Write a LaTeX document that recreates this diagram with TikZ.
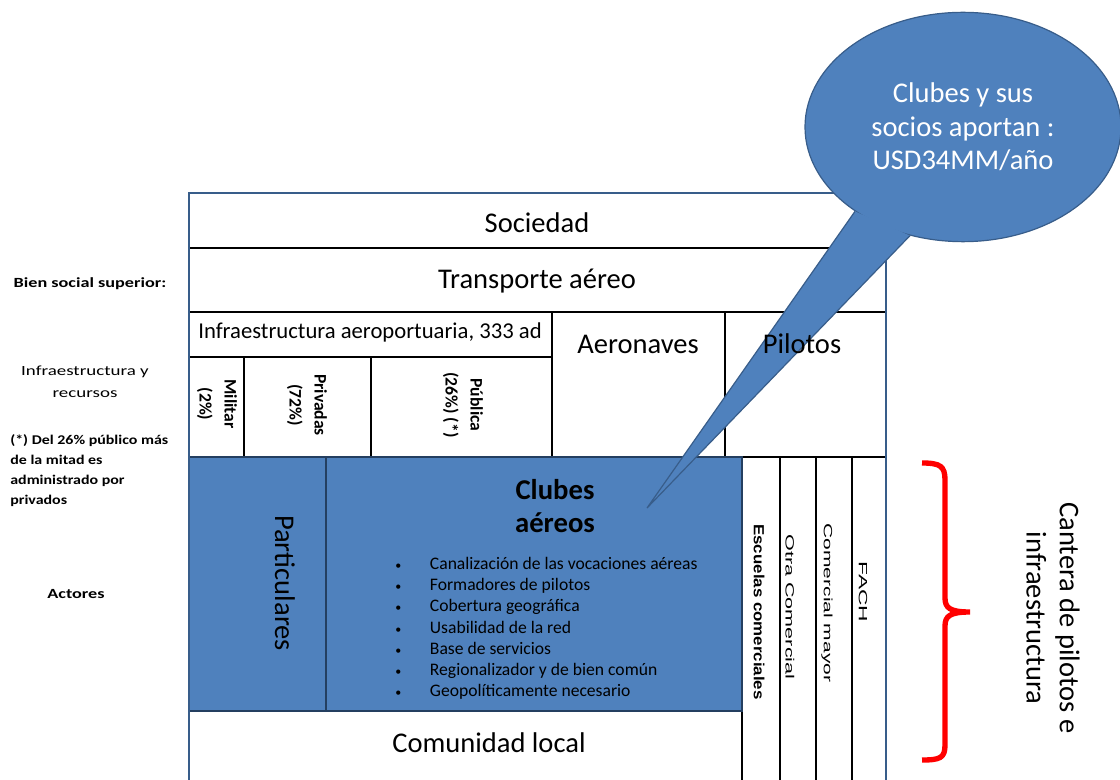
\documentclass[tikz,border=0pt]{standalone}
\usepackage{fontspec}
\setmainfont{Carlito}
\newfontfamily\arialfont{Liberation Sans}
\usetikzlibrary{shapes.geometric}

\definecolor{clubblue}{HTML}{4F81BD}
\definecolor{frameblue}{HTML}{385D8A}
\definecolor{boxline}{HTML}{243F60}

\tikzset{
  grid line/.style={line width=1.6pt,black},
  frame line/.style={line width=2.2pt,frameblue},
  blue box/.style={fill=clubblue,draw=boxline,line width=1.2pt},
  big text/.style={font=\fontsize{21.4}{25}\selectfont,align=center},
  side label/.style={font=\bfseries\fontsize{10.5}{16}\selectfont,xscale=1.3,align=center},
  share label/.style={rotate=-90,font=\bfseries\fontsize{13.2}{18.8}\selectfont,align=center},
  col label/.style={rotate=-90,font=\arialfont\fontsize{9}{11}\selectfont},
  bubble shape/.style={ellipse,fill=clubblue,draw=frameblue,line width=0.9pt,text=white,
    minimum width=237pt,minimum height=172pt,inner sep=0pt},
  bubble tail/.style={fill=clubblue,draw=frameblue,line width=0.9pt},
  red brace/.style={red,line width=4pt},
}
\newcommand\rolebullet{\makebox[26pt][l]{\fontsize{9}{9}\selectfont\textbullet}}

\begin{document}
\begin{tikzpicture}[x=0.75pt,y=-0.75pt]
\useasboundingbox (0,0) rectangle (1120,780);

\draw[grid line] (189,248) -- (886,248);
\draw[grid line] (189,312) -- (886,312);
\draw[grid line] (189,357) -- (552,357);
\draw[grid line] (552,312) -- (552,457) (725,312) -- (725,457);
\draw[grid line] (244,357) -- (244,457) (371,357) -- (371,457);
\draw[grid line] (189,457) -- (886,457);
\draw[grid line] (189,711) -- (742,711);
\foreach \x in {742,780,816,852}
  \draw[grid line] (\x,457) -- (\x,780);
\draw[blue box] (189,457) rectangle (326,711);
\draw[blue box] (326,457) rectangle (742,711);
\draw[frame line] (189,780) -- (189,193) -- (886,193) -- (886,780);

\node[big text] (sociedad) at (537,223) {Sociedad};
\node[big text] (transporte) at (537,281) {Transporte aéreo};
\node[font=\fontsize{17}{20}\selectfont] (aeropuertos) at (370,332) {Infraestructura aeroportuaria, 333 ad};
\node[big text] (aeronaves) at (638,344) {Aeronaves};
\node[share label] (militar) at (217,404) {Militar\\(2\%)};
\node[share label] (privadas) at (307,405) {Privadas\\(72\%)};
\node[share label] (publica) at (463,405) {Pública\\(26\%) (*)};

\node[side label] (bien) at (90,284) {Bien social superior:};
\node[side label,font=\fontsize{10.5}{16.5}\selectfont,xscale=1.04] (recursos) at (85,382) {Infraestructura y\\recursos};
\node[side label,align=left,anchor=west,inner sep=0pt,font=\bfseries\fontsize{10}{15}\selectfont,xscale=0.92] (nota) at (10,471)
  {(*) Del 26\% público más\\de la mitad es\\administrado por\\privados};
\node[side label] (actores) at (76,594) {Actores};

\node[big text,rotate=-90] (particulares) at (285,583) {Particulares};
\node[big text,font=\bfseries\fontsize{21.5}{24.8}\selectfont] (clubes) at (555,506) {Clubes\\aéreos};
\node[anchor=north west,inner sep=0pt,align=left,font=\fontsize{13.2}{15.9}\selectfont] (roles) at (395,557)
  {\rolebullet Canalización de las vocaciones aéreas\\
   \rolebullet Formadores de pilotos\\
   \rolebullet Cobertura geográfica\\
   \rolebullet Usabilidad de la red\\
   \rolebullet Base de servicios\\
   \rolebullet Regionalizador y de bien común\\
   \rolebullet Geopolíticamente necesario};
\node[big text] (comunidad) at (489,743) {Comunidad local};

\node[col label,font=\arialfont\bfseries\fontsize{11}{13}\selectfont,xscale=1.15] (escuelas) at (759,612) {Escuelas comerciales};
\node[col label,xscale=1.8] (otra) at (790,607) {Otra Comercial};
\node[col label,xscale=1.75] (mayor) at (827,603) {Comercial mayor};
\node[col label,xscale=1.9] (fach) at (863,592) {FACH};

\draw[red brace] (922,463) .. controls (940,463) and (945,466) .. (945,480) -- (945,598)
  .. controls (945,608) and (950,612) .. (970,612) .. controls (950,612) and (945,616) .. (945,626)
  -- (945,745) .. controls (945,758) and (940,760) .. (922,760);
\node[big text,rotate=-90] (cantera) at (1053,618) {Cantera de pilotos e\\infraestructura};

\node[bubble shape,big text,text=white] (bubble) at (963,127) {Clubes y sus\\socios aportan :\\USD34MM/año};
\coordinate (tip) at (647,508);
\filldraw[bubble tail] (bubble.218) -- (tip) -- (bubble.244);
\node[big text] (pilotos) at (802,344) {Pilotos};
\end{tikzpicture}
\end{document}
